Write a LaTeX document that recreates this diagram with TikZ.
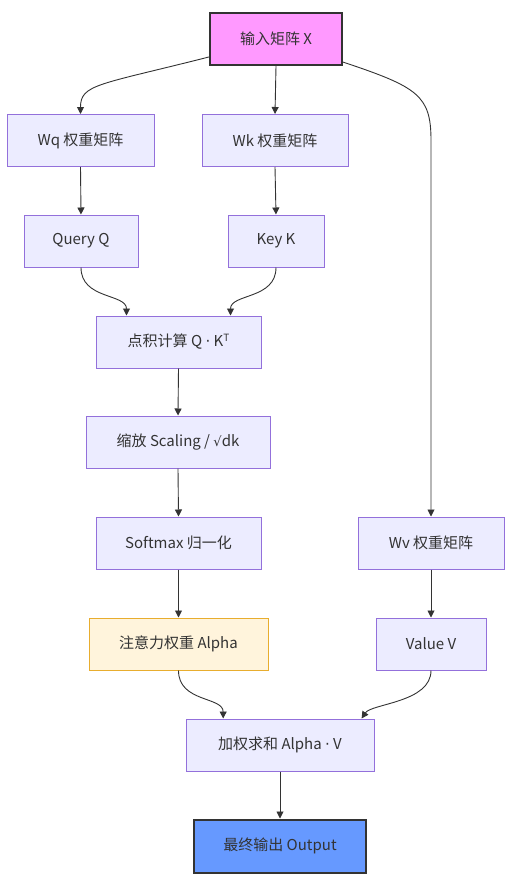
\documentclass[tikz,border=0pt]{standalone}
\usepackage{fontspec}
\setmainfont{Noto Sans CJK SC}
\newfontfamily\symf{DejaVu Sans}
\usetikzlibrary{arrows.meta}

\definecolor{boxfill}{HTML}{ECECFF}
\definecolor{boxline}{HTML}{9370DB}
\definecolor{inpink}{HTML}{FF99FF}
\definecolor{outblue}{HTML}{6699FF}
\definecolor{alfill}{HTML}{FFF4DC}
\definecolor{alline}{HTML}{E8AD2E}
\definecolor{dark}{HTML}{333333}

\newcommand{\mdot}{{\symf ·}}

\begin{document}
\begin{tikzpicture}[x=1pt,y=-1pt,
    box/.style={draw=boxline,fill=boxfill,line width=1pt,minimum height=52pt,
                inner sep=0pt,text=dark,font=\fontsize{15}{17}\selectfont},
    inbox/.style={box,fill=inpink,draw=dark,line width=2pt},
    outbox/.style={box,fill=outblue,draw=dark,line width=2pt,minimum height=53pt},
    albox/.style={box,fill=alfill,draw=alline},
    arr/.style={draw=dark,line width=0.9pt,-{Triangle[length=7pt,width=7pt]}}
  ]
  \useasboundingbox[fill=white] (0,0) rectangle (512,886);

  \node[inbox,minimum width=132pt] (in)  at (276,39)    {输入矩阵 X};
  \node[box,minimum width=147pt]   (wq)  at (80.5,140.5) {Wq 权重矩阵};
  \node[box,minimum width=146pt]   (wk)  at (275,140.5)  {Wk 权重矩阵};
  \node[box,minimum width=114pt]   (q)   at (81,241)     {Query Q};
  \node[box,minimum width=96pt]    (k)   at (276,241)    {Key K};
  \node[box,minimum width=165pt]   (dot) at (178.5,342)  {点积计算 Q \mdot{} K\raisebox{5pt}{\fontsize{10}{10}\selectfont T}};
  \node[box,minimum width=184pt]   (sc)  at (178,442)    {缩放 Scaling / {\symf\fontsize{13}{15}\selectfont √}dk};
  \node[box,minimum width=165pt]   (sm)  at (178.5,543)  {Softmax 归一化};
  \node[box,minimum width=146pt]   (wv)  at (431,543)    {Wv 权重矩阵};
  \node[albox,minimum width=179pt] (al)  at (178.5,644)  {注意力权重 Alpha};
  \node[box,minimum width=110pt]   (v)   at (431,644)    {Value V};
  \node[box,minimum width=188pt]   (sum) at (280,745)    {加权求和 Alpha \mdot{} V};
  \node[outbox,minimum width=172pt] (out) at (280,846)   {最终输出 Output};

  \draw[arr] (in.195) .. controls +(-110,28) and +(0,-30) .. (wq.north);
  \draw[arr] (in.south) -- (wk.north);
  \draw[arr] (in.-19) .. controls +(75,25) and +(0,-45) .. (wv.north |- wq.west) -- (wv.north);
  \draw[arr] (wq.south) -- (q.north);
  \draw[arr] (wk.south) -- (k.north);
  \draw[arr] (q.south) .. controls +(0,32) and +(0,-22) .. (dot.153);
  \draw[arr] (k.south) .. controls +(0,32) and +(0,-22) .. (dot.27);
  \draw[arr] (dot.south) -- (sc.north);
  \draw[arr] (sc.south) -- (sm.north);
  \draw[arr] (sm.south) -- (al.north);
  \draw[arr] (wv.south) -- (v.north);
  \draw[arr] (al.south) .. controls +(0,32) and +(0,-22) .. (sum.155);
  \draw[arr] (v.south) .. controls +(0,32) and +(10,-15) .. (sum.18);
  \draw[arr] (sum.south) -- (out.north);
\end{tikzpicture}
\end{document}
